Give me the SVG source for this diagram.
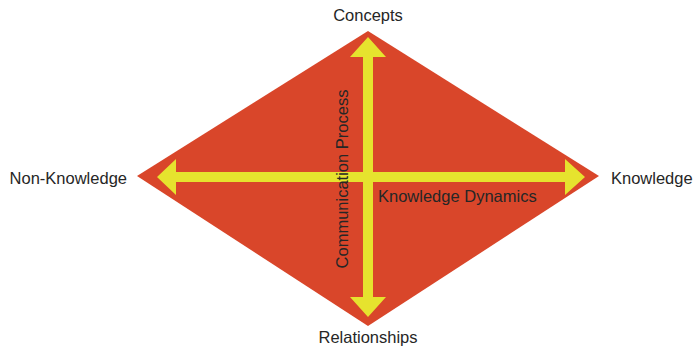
<svg xmlns="http://www.w3.org/2000/svg" width="694" height="346" viewBox="0 0 694 346">
<style>
text{font-family:"Liberation Sans",Arial,sans-serif;font-size:16.5px;fill:#262626}
.arrow{fill:#E6E32E}
</style>
<rect width="694" height="346" fill="#fff"/>
<g id="diamond"><polygon points="368,31 599,176 368,326 137,176" fill="#D9462A"/></g>
<g id="connectors">
<polygon class="arrow" points="157,177 176,159 176,172 565,172 565,159 585,177 565,195 565,182 176,182 176,195"/>
<polygon class="arrow" points="368,37 386,57 373,57 373,297 386,297 368,317 350,297 363,297 363,57 350,57"/>
</g>
<g id="concepts"><text x="368" y="21" text-anchor="middle">Concepts</text></g>
<g id="nonknowledge"><text x="127" y="184" text-anchor="end">Non-Knowledge</text></g>
<g id="knowledge"><text x="611" y="184">Knowledge</text></g>
<g id="relationships"><text x="368" y="343" text-anchor="middle">Relationships</text></g>
<g id="communication"><text transform="translate(348,179) rotate(-90)" text-anchor="middle">Communication Process</text></g>
<g id="dynamics"><text x="378" y="202">Knowledge Dynamics</text></g>
</svg>
